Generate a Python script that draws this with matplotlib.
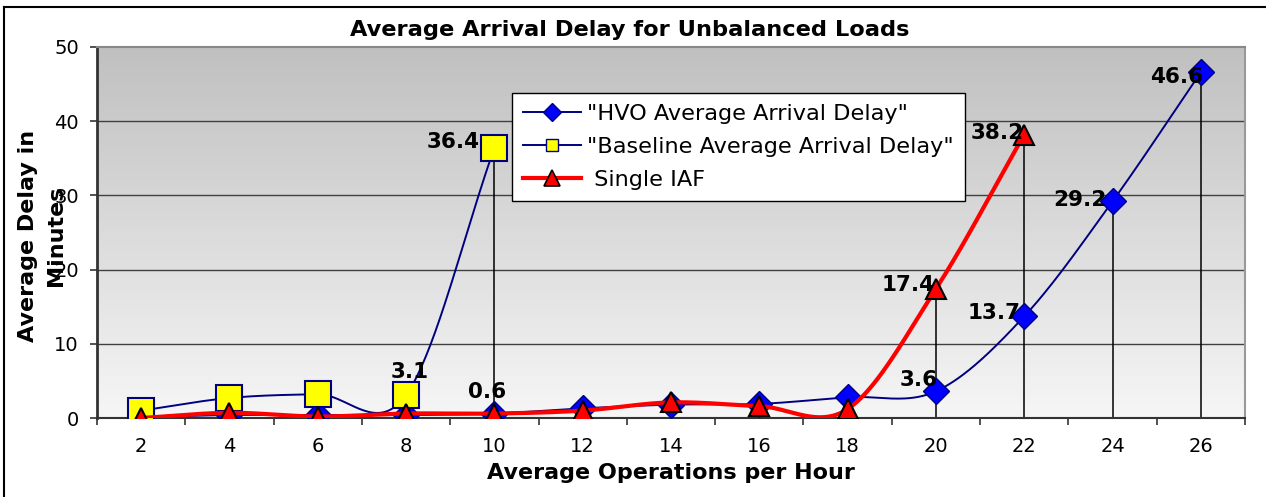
import numpy as np
import matplotlib
matplotlib.use("Agg")
import matplotlib.pyplot as plt
from matplotlib.lines import Line2D

# ---------------- data ----------------
ops = [2, 4, 6, 8, 10, 12, 14, 16, 18, 20, 22, 24, 26]
hvo = [0.1, 0.4, 0.4, 0.4, 0.6, 1.3, 1.8, 1.9, 2.8, 3.6, 13.7, 29.2, 46.6]
baseline = [1.0, 2.7, 3.2, 3.1, 36.4]
single_iaf = [0.0, 0.7, 0.2, 0.6, 0.6, 1.0, 2.1, 1.6, 1.2, 17.4, 38.2]
y_ticks = [0, 10, 20, 30, 40, 50]

title = "Average Arrival Delay for Unbalanced Loads"
xlabel = "Average Operations per Hour"
ylabel = "Average Delay in\nMinutes"
names = ['"HVO Average Arrival Delay"', '"Baseline Average Arrival Delay"', " Single IAF"]

# data labels: (series key, point index), with pixel offsets (style)
label_points = [("hvo", 4), ("hvo", 9), ("hvo", 10), ("hvo", 11), ("hvo", 12),
                ("base", 3), ("base", 4), ("iaf", 9), ("iaf", 10)]
label_offsets = [(12, 22), (2, 11), (-4, 3), (-6, 1), (2, -5),
                 (23, 23), (-15, 6), (-1, 4), (0, 2)]


def smooth(y, n=40):
    """Excel-like smoothed line (cardinal spline, chord tangents at the ends)."""
    y = np.asarray(y, float)
    m = np.empty_like(y)
    m[1:-1] = (y[2:] - y[:-2]) / 2.0
    m[0] = y[1] - y[0]
    m[-1] = y[-1] - y[-2]
    xs, ys = [], []
    for i in range(len(y) - 1):
        t = np.linspace(0, 1, n, endpoint=(i == len(y) - 2))
        h00 = 2 * t**3 - 3 * t**2 + 1
        h10 = t**3 - 2 * t**2 + t
        h01 = -2 * t**3 + 3 * t**2
        h11 = t**3 - t**2
        xs.append(i + t)
        ys.append(h00 * y[i] + h10 * m[i] + h01 * y[i + 1] + h11 * m[i + 1])
    return np.concatenate(xs), np.concatenate(ys)


W, H = 1266, 497
fig = plt.figure(figsize=(W / 100, H / 100), dpi=100)
fig.patch.set_facecolor("white")
L, R, T, B = 97, 1245, 47, 418
ax = fig.add_axes([L / W, 1 - B / H, (R - L) / W, (B - T) / H])

n = len(ops)
xi = np.arange(n)
ax.set_xlim(-0.5, n - 0.5)
ax.set_ylim(y_ticks[0], y_ticks[-1])

# gradient background
top_c = np.array([192, 192, 192]) / 255
bot_c = np.array([246, 246, 246]) / 255
f = np.linspace(0, 1, 256)[:, None]
grad = (top_c[None, :] * (1 - f) + bot_c[None, :] * f)[:, None, :]
ax.imshow(grad, extent=[0, 1, 0, 1], transform=ax.transAxes, aspect="auto",
          zorder=0, interpolation="bilinear")

# gridlines
for yv in y_ticks[1:-1]:
    ax.axhline(yv, color="#404040", lw=1.0, zorder=1)

# drop lines (from highest value at each category down to 0)
series = {"hvo": hvo, "base": baseline, "iaf": single_iaf}
for i in range(n):
    vals = [s[i] for s in series.values() if i < len(s)]
    ax.plot([i, i], [0, max(vals)], color="black", lw=1.1, zorder=2)

# HVO
sx, sy = smooth(hvo)
ax.plot(sx, sy, color="#000080", lw=1.4, zorder=3)
ax.plot(xi, hvo, ls="none", marker="D", ms=13, mfc="#0000ff", mec="#000080",
        mew=1.0, zorder=4)
# Baseline
sx, sy = smooth(baseline)
ax.plot(sx, sy, color="#000080", lw=1.4, zorder=5)
ax.plot(xi[:len(baseline)], baseline, ls="none", marker="s", ms=18.5,
        mfc="#ffff00", mec="#000080", mew=1.5, zorder=6)
# Single IAF
sx, sy = smooth(single_iaf)
ax.plot(sx, sy, color="#ff0000", lw=3.0, zorder=7, solid_capstyle="round")
ax.plot(xi[:len(single_iaf)], single_iaf, ls="none", marker="^", ms=15,
        mfc="#ff0000", mec="black", mew=1.5, zorder=8)

# data labels
for (key, idx), (dx, dy) in zip(label_points, label_offsets):
    v = series[key][idx]
    ax.annotate(f"{v:.1f}", (idx, v), xytext=(dx, dy), textcoords="offset pixels",
                ha="right", va="center", fontsize=15.5, fontweight="bold",
                color="black", zorder=10)

# axes styling
ax.set_xticks(np.arange(-0.5, n, 1.0))
ax.set_xticklabels([])
ax.set_xticks(xi, minor=True)
ax.set_xticklabels([str(o) for o in ops], minor=True, fontsize=14)
ax.tick_params(axis="x", which="major", direction="out", length=5, width=1.2,
               color="#333333")
ax.tick_params(axis="x", which="minor", length=0, pad=14)
ax.set_yticks(y_ticks)
ax.set_yticklabels([str(t) for t in y_ticks], fontsize=14)
ax.tick_params(axis="y", direction="out", length=5, width=1.2, color="#333333",
               pad=8)
ax.spines["left"].set_color("#333333")
ax.spines["left"].set_linewidth(2)
ax.spines["bottom"].set_color("#333333")
ax.spines["bottom"].set_linewidth(1.5)
ax.spines["top"].set_color("#888888")
ax.spines["top"].set_linewidth(1.5)
ax.spines["right"].set_color("#999999")
ax.spines["right"].set_linewidth(1.5)

# legend
handles = [
    Line2D([], [], color="#000080", lw=1.4, marker="D", ms=9, mfc="#0000ff", mec="#000080"),
    Line2D([], [], color="#000080", lw=1.4, marker="s", ms=9, mfc="#ffff00", mec="#000080"),
    Line2D([], [], color="#ff0000", lw=3.0, marker="^", ms=11, mfc="#ff0000", mec="black", mew=1.2),
]
leg = ax.legend(handles, names, loc="upper left",
                bbox_to_anchor=((512 - L) / (R - L), (B - 93) / (B - T)),
                prop={"size": 16.1}, frameon=True, fancybox=False, shadow=False,
                edgecolor="black", facecolor="white", framealpha=1,
                handlelength=2.6, handletextpad=0.25, labelspacing=0.58,
                borderpad=0.5, borderaxespad=0)
leg.get_frame().set_linewidth(1.0)
leg.set_zorder(20)

# texts
fig.text(630 / W, 1 - 30 / H, title, ha="center", va="center", fontsize=16.2,
         fontweight="bold")
fig.text(671 / W, 1 - 473 / H, xlabel, ha="center", va="center", fontsize=16,
         fontweight="bold")
fig.text(42 / W, 1 - 236 / H, ylabel, ha="center", va="center", fontsize=16,
         fontweight="bold", rotation=90, multialignment="center", linespacing=1.45)

# outer frame (top and left edges visible)
fig.add_artist(Line2D([4 / W, 1.01], [1 - 7 / H, 1 - 7 / H], color="black", lw=1.5,
                      transform=fig.transFigure))
fig.add_artist(Line2D([4 / W, 4 / W], [-0.01, 1 - 7 / H], color="black", lw=1.5,
                      transform=fig.transFigure))

fig.savefig("out.png", dpi=100)
